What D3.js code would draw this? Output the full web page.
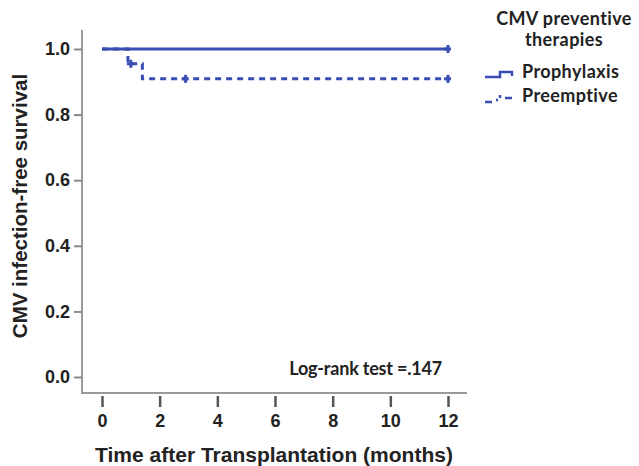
<!DOCTYPE html>
<html>
<head>
<meta charset="utf-8">
<script src="https://cdn.jsdelivr.net/npm/d3@7"></script>
<style>
  body { margin: 0; background: #fff; }
  svg { display: block; }
</style>
</head>
<body>
<svg id="chart" width="639" height="466"></svg>
<script>
// tick values
const timeTicks = [0, 2, 4, 6, 8, 10, 12];
const survTicks = [0, 0.2, 0.4, 0.6, 0.8, 1.0];

// Kaplan-Meier steps
const prophylaxisTime = [0, 12];
const prophylaxisSurv = [1, 1];
const prophylaxisCensor = [12];

const preemptiveTime = [0, 0.9, 1.4, 12];
const preemptiveSurv = [1, 0.955, 0.909, 0.909];
const preemptiveCensor = [1.0, 2.9, 12];

const groups = ['Prophylaxis', 'Preemptive'];
const blue = '#3a4db5';

const svg = d3.select('#chart');

const xScale = d3.scaleLinear().domain([0, 12]).range([102, 448]);
const yScale = d3.scaleLinear().domain([0, 1]).range([377, 49]);

const axisFont = '"Liberation Sans", Arial, sans-serif';
const legendFont = 'Lato, "Open Sans", sans-serif';

// axis frame lines (they run past the tick range)
svg.append('line')
	.attr('x1', 82).attr('x2', 82)
	.attr('y1', 30).attr('y2', 393)
	.attr('stroke', '#9a9a9a').attr('stroke-width', 2);
svg.append('line')
	.attr('x1', 81).attr('x2', 467)
	.attr('y1', 393).attr('y2', 393)
	.attr('stroke', '#9a9a9a').attr('stroke-width', 2);

// y axis
const yAxis = d3.axisLeft(yScale)
	.tickValues(survTicks)
	.tickFormat(d3.format('.1f'))
	.tickSize(8)
	.tickPadding(4);

const gy = svg.append('g')
	.attr('class', 'y axis')
	.attr('transform', 'translate(82,0)')
	.call(yAxis);
gy.select('.domain').remove();
gy.selectAll('.tick line').attr('stroke', '#8a8a8a').attr('stroke-width', 2);
gy.selectAll('.tick text')
	.attr('fill', '#222')
	.style('font', `bold 18px ${axisFont}`);

// x axis, ticks hang below the frame line
const xAxis = d3.axisBottom(xScale)
	.tickValues(timeTicks)
	.tickSize(11)
	.tickPadding(7);

const gx = svg.append('g')
	.attr('class', 'x axis')
	.attr('transform', 'translate(0,396)')
	.call(xAxis);
gx.select('.domain').remove();
gx.selectAll('.tick line').attr('stroke', '#555').attr('stroke-width', 2.5);
gx.selectAll('.tick text')
	.attr('fill', '#222')
	.style('font', `bold 18px ${axisFont}`);

// axis titles
svg.append('text')
	.attr('transform', 'translate(27,206) rotate(-90)')
	.attr('text-anchor', 'middle')
	.attr('fill', '#222')
	.style('font', `bold 20.5px ${axisFont}`)
	.text('CMV infection-free survival');

svg.append('text')
	.attr('x', 274).attr('y', 462)
	.attr('text-anchor', 'middle')
	.attr('fill', '#222')
	.style('font', `bold 21px ${axisFont}`)
	.text('Time after Transplantation (months)');

// step line
const stepLine = d3.line()
	.x(d => xScale(d[0]))
	.y(d => yScale(d[1]))
	.curve(d3.curveStepAfter);

const pairs = (t, s) => t.map((d, i) => [d, s[i]]);
const survAt = (t, s, x) => {
	let v = s[0];
	t.forEach((d, i) => { if (d <= x) v = s[i]; });
	return v;
};

const series = [
	{ name: groups[0], time: prophylaxisTime, surv: prophylaxisSurv, censor: prophylaxisCensor, dash: null },
	{ name: groups[1], time: preemptiveTime, surv: preemptiveSurv, censor: preemptiveCensor, dash: '6,5' }
];

series.slice().reverse().forEach(s => {
	svg.append('path')
		.datum(pairs(s.time, s.surv))
		.attr('d', stepLine)
		.attr('fill', 'none')
		.attr('stroke', blue)
		.attr('stroke-width', 3)
		.attr('stroke-dasharray', s.dash);

	// censor marks
	svg.selectAll(null)
		.data(s.censor)
		.enter().append('line')
		.attr('x1', d => xScale(d)).attr('x2', d => xScale(d))
		.attr('y1', d => yScale(survAt(s.time, s.surv, d)) - 4)
		.attr('y2', d => yScale(survAt(s.time, s.surv, d)) + 4)
		.attr('stroke', blue)
		.attr('stroke-width', 3);
	svg.selectAll(null)
		.data(s.censor)
		.enter().append('line')
		.attr('x1', d => xScale(d) - 4).attr('x2', d => xScale(d) + 3)
		.attr('y1', d => yScale(survAt(s.time, s.surv, d)))
		.attr('y2', d => yScale(survAt(s.time, s.surv, d)))
		.attr('stroke', blue)
		.attr('stroke-width', 3);
});

// log-rank text
svg.append('text')
	.attr('x', 442).attr('y', 375)
	.attr('text-anchor', 'end')
	.attr('fill', '#222')
	.style('font', `bold 18px ${legendFont}`)
	.style('letter-spacing', '-0.2px')
	.text('Log-rank test =.147');

// legend
const legend = svg.append('g').attr('class', 'legend');
legend.append('text')
	.attr('x', 564).attr('y', 25)
	.attr('text-anchor', 'middle')
	.attr('fill', '#222')
	.style('font', `bold 18px ${legendFont}`)
	.style('letter-spacing', '0.4px')
	.text('CMV preventive');
legend.append('text')
	.attr('x', 564).attr('y', 46)
	.attr('text-anchor', 'middle')
	.attr('fill', '#222')
	.style('font', `bold 18px ${legendFont}`)
	.style('letter-spacing', '0.4px')
	.text('therapies');

const legendRows = legend.selectAll('.row')
	.data(series)
	.enter().append('g')
	.attr('class', 'row')
	.attr('transform', (d, i) => `translate(0,${78 + i * 24})`);

legendRows.append('text')
	.attr('x', 522).attr('y', 0)
	.attr('fill', '#222')
	.style('font', `bold 18px ${legendFont}`)
	.style('letter-spacing', '0.4px')
	.text(d => d.name);

// symbol: little step for prophylaxis, broken dash for preemptive
legendRows.filter(d => !d.dash).append('path')
	.attr('d', 'M485,-1 H500 V-6 H512 V-2')
	.attr('fill', 'none')
	.attr('stroke', blue)
	.attr('stroke-width', 2.5);
legendRows.filter(d => d.dash).append('path')
	.attr('d', 'M485,0 H492 M496,-2 H498 M500,-7 V-4 M505,-4 H512')
	.attr('fill', 'none')
	.attr('stroke', blue)
	.attr('stroke-width', 2.5);
</script>
</body>
</html>
